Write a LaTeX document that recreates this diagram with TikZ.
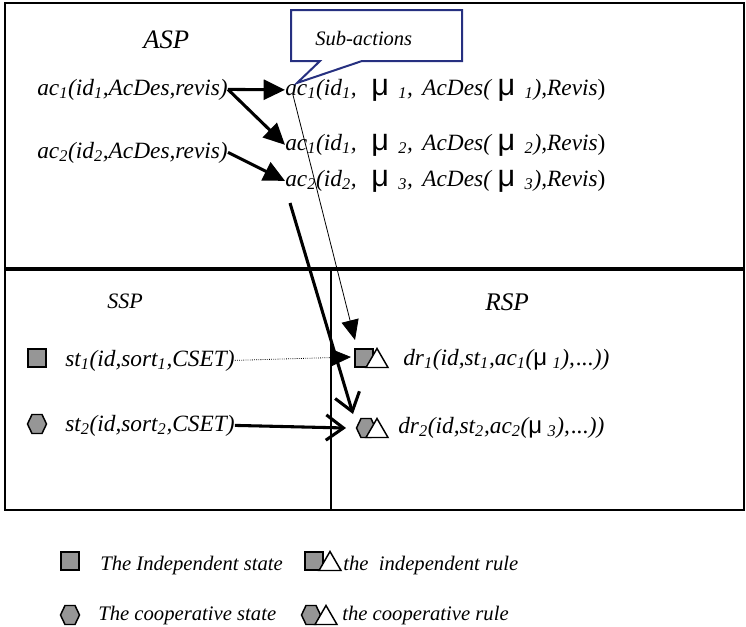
\documentclass[tikz,border=0pt]{standalone}
\usepackage{fontspec}
\setmainfont{Liberation Serif}
\newfontfamily\mufont{Liberation Sans}
\usetikzlibrary{arrows.meta}
\definecolor{calloutblue}{RGB}{38,48,128}
\definecolor{stategray}{RGB}{150,150,150}
\newcommand{\sbs}[1]{\textsubscript{#1}}
\newcommand{\bigmu}{{\mufont\upshape\fontsize{23}{23}\selectfont μ}}
\newcommand{\smallmu}{{\mufont\upshape\fontsize{18}{18}\selectfont μ}}
% one action with its sub-action parameter
\newcommand{\subact}[3]{ac\sbs{#1}(id\sbs{#2},\hspace{11pt}\bigmu\hspace{7pt}\sbs{#3},\hspace{7pt}AcDes(\hspace{5pt}\bigmu\hspace{7pt}\sbs{#3}),Revis\textup{)}}
\tikzset{
  sqstate/.pic={\draw[line width=1.1pt, fill=stategray] (-9,-9) rectangle (9,9);},
  hexstate/.pic={\draw[line width=1.1pt, fill=stategray] (-9.5,0) -- (-5,-9.5) -- (5,-9.5) -- (9.5,0) -- (5,9.5) -- (-5,9.5) -- cycle;},
  ruletri/.pic={\draw[line width=1.1pt, fill=white] (-11,9.5) -- (0,-9.5) -- (11,9.5) -- cycle;},
}
\begin{document}
\begin{tikzpicture}[x=0.75pt,y=-0.75pt,
  txt/.style={font=\itshape\fontsize{17.5}{20}\selectfont, inner sep=0pt, anchor=base west},
  legendtxt/.style={font=\itshape\fontsize{15.5}{18}\selectfont, inner sep=0pt, anchor=base west},
  frameline/.style={line width=1.5pt},
  boldarrow/.style={line width=2.3pt, -{Triangle[length=16pt,width=15pt]}},
  finearrow/.style={line width=0.6pt, -{Triangle[length=15pt,width=13pt]}},
  openarrow/.style={line width=2.3pt, -{Straight Barb[length=13pt,width=19pt,line width=2.3pt]}},
]
\useasboundingbox (0,0) rectangle (746,626);

% panels
\draw[frameline] (5,3) rectangle (744,510);
\draw[line width=2.3pt] (5,269) -- (744,269);
\draw[frameline] (331,269) -- (331,510);

% panel titles
\node[txt, font=\itshape\fontsize{20}{22}\selectfont] (asp) at (143,48) {ASP};
\node[txt, font=\itshape\fontsize{16.5}{20}\selectfont] (ssp) at (107,308) {SSP};
\node[txt, font=\itshape\fontsize{19}{22}\selectfont] (rsp) at (485,310) {RSP};

% actions
\node[txt] (acA) at (37,95) {ac\sbs{1}(id\sbs{1},AcDes,revis)};
\node[txt] (acD) at (37,158) {ac\sbs{2}(id\sbs{2},AcDes,revis)};
\node[txt] (acB) at (285,95) {\subact{1}{1}{1}};
\node[txt] (acC) at (285,150) {\subact{1}{1}{2}};
\node[txt] (acE) at (285,186) {\subact{2}{2}{3}};

% states
\pic at (37,358) {sqstate};
\pic at (37,424) {hexstate};
\node[txt] (st1) at (65,366) {st\sbs{1}(id,sort\sbs{1},CSET)};
\node[txt] (st2) at (65,431) {st\sbs{2}(id,sort\sbs{2},CSET)};

% rules
\pic at (364,358) {sqstate};
\pic at (377,358) {ruletri};
\pic at (366,428) {hexstate};
\pic at (377,428) {ruletri};
\node[txt] (dr1) at (403,365) {dr\sbs{1}(id,st\sbs{1},ac\sbs{1}(\smallmu\hspace{4pt}\sbs{1}),\hspace{1pt}...))};
\node[txt] (dr2) at (398,433) {dr\sbs{2}(id,st\sbs{2},ac\sbs{2}(\smallmu\hspace{4pt}\sbs{3}),\hspace{1pt}...))};

% connector end points
\coordinate (subfrom) at (293,95);
\coordinate (rule1top) at (355,340);
\coordinate (ac3from) at (290,203);
\coordinate (rule2top) at (353,414);
\coordinate (rule1left) at (351,357);
\coordinate (rule2left) at (346,428);

% connectors
\draw[boldarrow] (acA.east) -- (acB.west);
\draw[boldarrow] (acA.east) -- (acC.west);
\draw[boldarrow] (acD.east) -- (acE.west);
\draw[finearrow] (subfrom) -- (rule1top);
\draw[openarrow] (ac3from) -- (rule2top);
\draw[finearrow, densely dotted] (st1.east) -- (rule1left);
\draw[openarrow] (st2.east) -- (rule2left);

% callout
\draw[calloutblue, line width=1.5pt, fill=white] (291,10) -- (462,10) -- (462,61) -- (362,61) -- (297,83) -- (320,61) -- (291,61) -- cycle;
\node[txt, font=\itshape\fontsize{15.4}{18}\selectfont] (sub) at (315,45) {Sub-actions};

% legend
\pic at (70,561) {sqstate};
\pic at (314,561) {sqstate};
\pic at (330,561) {ruletri};
\pic at (70,615) {hexstate};
\pic at (311,615) {hexstate};
\pic at (326,615) {ruletri};
\node[legendtxt] (lg1) at (100,570) {The Independent state};
\node[legendtxt] (lg2) at (343,570) {the\ \ independent rule};
\node[legendtxt] (lg3) at (98,620) {The cooperative state};
\node[legendtxt] (lg4) at (342,620) {the cooperative rule};
\end{tikzpicture}
\end{document}
